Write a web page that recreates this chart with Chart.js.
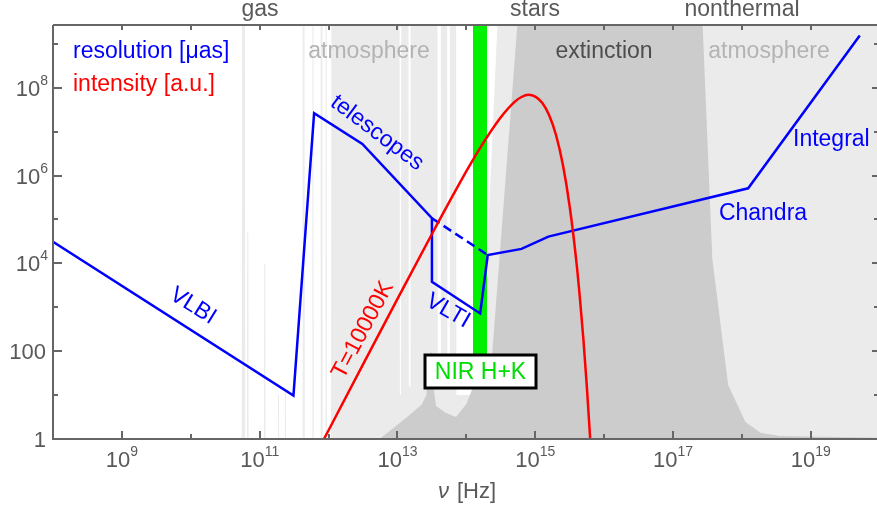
<!DOCTYPE html>
<html>
<head>
<meta charset="utf-8">
<script src="https://cdn.jsdelivr.net/npm/chart.js@4.4.1/dist/chart.umd.min.js"></script>
<style>
html,body{margin:0;padding:0;background:#fff;}
</style>
</head>
<body>
<canvas id="specChart" width="877" height="512"></canvas>
<script>
// ==========================
// Data (log10 of frequency in Hz, log10 of value)
// ==========================

// angular resolution of instruments [uas]
const resLogNu  = [8.0, 11.49, 11.79, 12.49, 13.50, 13.50, 14.20, 14.31, 14.80, 15.19, 18.09, 19.71];
const resLogVal = [4.49, 0.99, 7.42, 6.72, 5.03, 3.58, 2.86, 4.19, 4.33, 4.61, 5.71, 9.19];

// dashed single-telescope limit between mid-IR and NIR
const gapLogNu  = [13.50, 14.31];
const gapLogVal = [5.03, 4.19];

// T=10000K black body, nu*B_nu in arbitrary units
const bbLogNu  = [11.9, 12.0, 12.5, 13.0, 13.5, 14.0, 14.1, 14.2, 14.3, 14.5, 14.7, 14.8, 14.9, 15.0, 15.1, 15.2, 15.3, 15.4, 15.5, 15.6, 15.65, 15.7, 15.75, 15.8, 15.82];
const bbLogVal = [-0.1, 0.2, 1.7, 3.19, 4.67, 6.1, 6.37, 6.63, 6.88, 7.33, 7.68, 7.79, 7.84, 7.8, 7.66, 7.38, 6.93, 6.25, 5.29, 3.99, 3.17, 2.24, 1.16, -0.07, -0.5];

// interstellar extinction (dark grey, from the bottom)
const extLogNu  = [8.0, 12.7, 12.9, 13.1, 13.23, 13.35, 13.42, 13.46, 13.49, 13.52, 13.56, 13.7, 13.85, 14.0, 14.15, 14.37, 14.74, 14.76, 17.41, 17.43, 17.57, 17.8, 18.05, 18.27, 18.55, 19.96];
const extLogVal = [-1, -0.05, 0.2, 0.45, 0.62, 0.78, 1.0, 1.9, 2.0, 1.2, 0.75, 0.6, 0.5, 0.8, 1.4, 1.85, 9.43, 11, 11, 9.4, 4.1, 1.23, 0.39, 0.14, 0.07, 0.03];

// atmospheric opacity (light grey, from the bottom)
const atmLogNu  = [8.0, 10.74, 10.745, 10.785, 10.79, 10.815, 10.82, 10.835, 10.84, 11.06, 11.065, 11.08, 11.085,
  11.26, 11.265, 11.28, 11.285, 11.36, 11.365, 11.38, 11.385, 11.62, 11.625, 11.65, 11.655, 11.76, 11.765, 11.78, 11.785,
  11.88, 11.885, 11.91, 11.915, 11.95, 11.955, 11.97, 11.975, 12.035, 12.04, 13.03, 13.035, 13.05, 13.055,
  13.16, 13.165, 13.185, 13.19,
  13.58, 13.585, 13.625, 13.63, 13.72, 13.725, 13.755, 13.76, 13.85, 13.855, 14.3, 14.305, 14.45, 14.47, 19.96];
const atmLogVal = [-1, -1, 11, 11, -1, -1, 4.7, 4.7, -1, -1, 4.0, 4.0, -1,
  -1, 1.0, 1.0, -1, -1, 1.1, 1.1, -1, -1, 11, 11, -1, -1, 11, 11, -1,
  -1, 11, 11, -1, -1, 11, 11, -1, -1, 11, 11, 1, 1, 11,
  11, 1.2, 1.2, 11,
  11, 1.3, 1.3, 11, 11, 1.3, 1.3, 11, 11, 1.0, 1.0, 4.3, 9.43, 11, 11];

// NIR H+K band
const nirLogNu  = [14.095, 14.30];
const nirLogVal = [11, 11];

// tick labels
const xTickExps = [9, 11, 13, 15, 17, 19];
const yTickExps = [0, 2, 4, 6, 8];

const toPoints = (xs, ys) => xs.map((v, i) => ({x: 10 ** v, y: 10 ** ys[i]}));

const FONT = '"Liberation Sans", Arial, sans-serif';
const AXIS = '#666666';
const TEXT = '#595959';

// ==========================
// Axes, ticks and labels
// ==========================

function powLabel(ctx, exp, x, y, align) {
  if (exp === 0 || exp === 2) {
    ctx.font = '22px ' + FONT;
    ctx.textAlign = align;
    ctx.fillText(exp === 0 ? '1' : '100', x, y);
    return;
  }
  ctx.font = '22px ' + FONT;
  const w1 = ctx.measureText('10').width;
  ctx.font = '14px ' + FONT;
  const w2 = ctx.measureText(String(exp)).width;
  let left = align === 'center' ? x - (w1 + w2) / 2 : x - (w1 + w2);
  ctx.textAlign = 'left';
  ctx.font = '22px ' + FONT;
  ctx.fillText('10', left, y);
  ctx.font = '14px ' + FONT;
  ctx.fillText(String(exp), left + w1, y - 11);
}

const notes = [
  {t: 'gas', x: 260, y: 16, c: TEXT},
  {t: 'stars', x: 535, y: 16, c: TEXT},
  {t: 'nonthermal', x: 742, y: 16, c: TEXT},
  {t: 'atmosphere', x: 369, y: 58, c: '#b3b3b3'},
  {t: 'extinction', x: 604, y: 58, c: '#4d4d4d'},
  {t: 'atmosphere', x: 769, y: 58, c: '#b3b3b3'},
  {t: 'resolution [\u03bcas]', x: 73, y: 58, c: '#0000ff', a: 'left'},
  {t: 'intensity [a.u.]', x: 73, y: 91, c: '#ff0000', a: 'left'},
  {t: 'Chandra', x: 763, y: 220, c: '#0000ff'},
  {t: 'Integral', x: 793, y: 146, c: '#0000ff', a: 'left'}
];

const tilted = [
  {t: 'telescopes', x: 377, y: 133, r: 37, c: '#0000ff'},
  {t: 'VLBI', x: 193, y: 306, r: 32, c: '#0000ff'},
  {t: 'VLTI', x: 448, y: 311, r: 30, c: '#0000ff'},
  {t: 'T=10000K', x: 363, y: 330, r: -62, c: '#ff0000'}
];

const frame = {
  id: 'frame',
  afterDatasetsDraw(chart) {
    const {ctx, chartArea: a, scales: {x, y}} = chart;
    ctx.save();

    // frame lines
    ctx.strokeStyle = AXIS;
    ctx.lineWidth = 2;
    ctx.beginPath();
    ctx.moveTo(a.left, a.top); ctx.lineTo(a.right, a.top);
    ctx.moveTo(a.left, a.top); ctx.lineTo(a.left, a.bottom); ctx.lineTo(a.right, a.bottom);
    ctx.stroke();

    // ticks, pointing inwards
    for (let e = 9; e <= 19; e++) {
      const px = Math.round(x.getPixelForValue(10 ** e));
      const big = xTickExps.includes(e);
      ctx.beginPath();
      ctx.moveTo(px, a.bottom); ctx.lineTo(px, a.bottom - (big ? 8 : 5));
      ctx.moveTo(px, a.top); ctx.lineTo(px, a.top + 5);
      ctx.stroke();
    }
    for (let e = 1; e <= 9; e++) {
      const py = Math.round(y.getPixelForValue(10 ** e));
      const big = yTickExps.includes(e);
      ctx.beginPath();
      ctx.moveTo(a.left, py); ctx.lineTo(a.left + (big ? 9 : 5), py);
      ctx.moveTo(a.right, py); ctx.lineTo(a.right - (big ? 5 : 3), py);
      ctx.stroke();
    }

    // tick labels
    ctx.fillStyle = TEXT;
    ctx.textBaseline = 'alphabetic';
    xTickExps.forEach(e => powLabel(ctx, e, x.getPixelForValue(10 ** e), 467, 'center'));
    yTickExps.forEach(e => {
      const py = y.getPixelForValue(10 ** e);
      powLabel(ctx, e, e < 4 ? 46 : 48, py + 8, 'right');
    });

    // axis title
    ctx.textAlign = 'left';
    ctx.font = 'italic 22px ' + FONT;
    ctx.fillText('\u03bd', 438, 498);
    ctx.font = '22px ' + FONT;
    ctx.fillText('[Hz]', 457, 498);

    // annotations
    ctx.font = '23px ' + FONT;
    notes.forEach(n => {
      ctx.fillStyle = n.c;
      ctx.textAlign = n.a || 'center';
      ctx.fillText(n.t, n.x, n.y);
    });
    ctx.textAlign = 'center';
    ctx.textBaseline = 'middle';
    tilted.forEach(n => {
      ctx.save();
      ctx.translate(n.x, n.y);
      ctx.rotate(n.r * Math.PI / 180);
      ctx.fillStyle = n.c;
      ctx.fillText(n.t, 0, 0);
      ctx.restore();
    });

    // NIR H+K box
    ctx.fillStyle = '#ffffff';
    ctx.fillRect(425, 355, 111, 33);
    ctx.strokeStyle = '#000000';
    ctx.lineWidth = 3;
    ctx.strokeRect(425, 355, 111, 33);
    ctx.fillStyle = '#00dd00';
    ctx.fillText('NIR H+K', 480.5, 372.5);

    ctx.restore();
  }
};

// ==========================
// Chart
// ==========================

const area = {borderWidth: 0, borderColor: 'rgba(0,0,0,0)', pointRadius: 0, fill: 'start'};

new Chart(document.getElementById('specChart'), {
  type: 'line',
  data: {
    datasets: [
      {label: 'intensity', data: toPoints(bbLogNu, bbLogVal), borderColor: '#ff0000', borderWidth: 2.5,
        pointRadius: 0, fill: false, cubicInterpolationMode: 'monotone', order: 0},
      {label: 'resolution', data: toPoints(resLogNu, resLogVal), borderColor: '#0000ff', borderWidth: 2.5,
        pointRadius: 0, fill: false, tension: 0, order: 1},
      {label: 'single telescope', data: toPoints(gapLogNu, gapLogVal), borderColor: '#0000ff', borderWidth: 2.5,
        borderDash: [9, 5], pointRadius: 0, fill: false, order: 2},
      Object.assign({label: 'extinction', data: toPoints(extLogNu, extLogVal), backgroundColor: '#cccccc', order: 3}, area),
      Object.assign({label: 'atmosphere', data: toPoints(atmLogNu, atmLogVal), backgroundColor: '#ebebeb', order: 4}, area),
      Object.assign({label: 'NIR H+K', data: toPoints(nirLogNu, nirLogVal), backgroundColor: '#00f000', order: 5}, area)
    ]
  },
  options: {
    responsive: false,
    animation: false,
    layout: {padding: {left: 53, top: 25, right: 0, bottom: 73}},
    scales: {
      x: {type: 'logarithmic', min: 1e8, max: 10 ** 19.96, display: false},
      y: {type: 'logarithmic', min: 1, max: 10 ** 9.43, display: false}
    },
    plugins: {legend: {display: false}, tooltip: {enabled: false}}
  },
  plugins: [frame]
});
</script>
</body>
</html>
